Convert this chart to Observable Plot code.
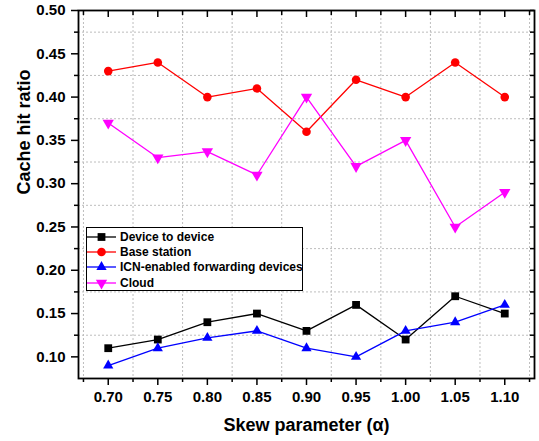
<!DOCTYPE html>
<html><head><meta charset="utf-8">
<script src="https://cdn.jsdelivr.net/npm/d3@7"></script>
<script src="https://cdn.jsdelivr.net/npm/@observablehq/plot@0.6"></script>
<style>
body{margin:0;background:#fff;font-family:"Liberation Sans",Arial,sans-serif;}
#wrap{position:relative;width:539px;height:441px;}
#legend{position:absolute;left:86px;top:227px;width:217px;height:64px;border:1px solid #000;background:#fff;box-sizing:border-box;padding-top:1px;}
.row{display:flex;align-items:center;height:15.4px;font-weight:bold;font-size:12px;color:#000;white-space:nowrap;}
.row svg{display:block;margin-right:4px;flex:none;}
</style></head><body><div id="wrap"><div id="legend"></div></div>
<script>
// ---- data ----
const alpha = [0.70, 0.75, 0.80, 0.85, 0.90, 0.95, 1.00, 1.05, 1.10];
const deviceToDevice = [0.11, 0.12, 0.14, 0.15, 0.13, 0.16, 0.12, 0.17, 0.15];
const baseStation    = [0.43, 0.44, 0.40, 0.41, 0.36, 0.42, 0.40, 0.44, 0.40];
const icnForwarding  = [0.09, 0.11, 0.122, 0.13, 0.11, 0.10, 0.13, 0.14, 0.16];
const cloud          = [0.37, 0.33, 0.337, 0.31, 0.40, 0.32, 0.35, 0.25, 0.29];
const seriesNames = ["Device to device", "Base station", "ICN-enabled forwarding devices", "Cloud"];
const seriesColors = ["#000000", "#ff0000", "#0000ff", "#ff00ff"];
const xTicks = [0.70, 0.75, 0.80, 0.85, 0.90, 0.95, 1.00, 1.05, 1.10];
const xMinor = [0.675, 0.725, 0.775, 0.825, 0.875, 0.925, 0.975, 1.025, 1.075, 1.125];
const yTicks = [0.10, 0.15, 0.20, 0.25, 0.30, 0.35, 0.40, 0.45, 0.50];
const yMinor = [0.125, 0.175, 0.225, 0.275, 0.325, 0.375, 0.425, 0.475];
const xLabel = "Skew parameter (\u03b1)";
const yLabel = "Cache hit ratio";

// ---- layout ----
const W = 539, H = 441, mL = 78, mR = 5, mT = 10, mB = 63;
const pW = W - mL - mR, pH = H - mT - mB;

const triangleDown = {
  draw(ctx, size) {
    const y = Math.sqrt(size / (Math.sqrt(3) * 3));
    ctx.moveTo(0, y * 2);
    ctx.lineTo(-Math.sqrt(3) * y, -y);
    ctx.lineTo(Math.sqrt(3) * y, -y);
    ctx.closePath();
  }
};
const seriesValues = [deviceToDevice, baseStation, icnForwarding, cloud];
const seriesSymbols = [d3.symbolSquare, d3.symbolCircle, d3.symbolTriangle, triangleDown];
const seriesR = [4.4, 4.3, 3.8, 4.2];

const marks = [
  Plot.ruleX(xMinor, {x: d => d, stroke: "#bdbdbd", strokeDasharray: "2,2"}),
  Plot.ruleY(yMinor, {y: d => d, stroke: "#bdbdbd", strokeDasharray: "2,2"})
];
seriesValues.forEach((vals, i) => {
  const rows = alpha.map((a, j) => ({x: a, y: vals[j]}));
  marks.push(Plot.line(rows, {x: "x", y: "y", stroke: seriesColors[i], strokeWidth: 1.3}));
  marks.push(Plot.dot(rows, {x: "x", y: "y", fill: seriesColors[i], stroke: "none", symbol: seriesSymbols[i], r: seriesR[i]}));
});
const tk = {stroke: "#000", strokeWidth: 1.5};
marks.push(
  Plot.frame({stroke: "#000", strokeWidth: 1.8}),
  // bottom (outward)
  Plot.tickX(xTicks, {x: d => d, insetTop: pH, insetBottom: -7, ...tk}),
  Plot.tickX(xMinor, {x: d => d, insetTop: pH, insetBottom: -4, ...tk}),
  // top (inward)
  Plot.tickX(xTicks, {x: d => d, insetTop: 0, insetBottom: pH - 7, ...tk}),
  Plot.tickX(xMinor, {x: d => d, insetTop: 0, insetBottom: pH - 5, ...tk}),
  // left (outward)
  Plot.tickY(yTicks, {y: d => d, insetLeft: -7, insetRight: pW, ...tk}),
  Plot.tickY(yMinor, {y: d => d, insetLeft: -4, insetRight: pW, ...tk}),
  // right (inward)
  Plot.tickY(yTicks, {y: d => d, insetLeft: pW - 4, insetRight: 0, ...tk}),
  Plot.tickY(yMinor, {y: d => d, insetLeft: pW - 4, insetRight: 0, ...tk}),
  // tick labels
  Plot.text(xTicks, {x: d => d, frameAnchor: "bottom", dy: 13, lineAnchor: "top", text: d => d.toFixed(2), fontSize: 15, fontWeight: "bold", fill: "#000"}),
  Plot.text(yTicks, {y: d => d, frameAnchor: "left", dx: -13, textAnchor: "end", text: d => d.toFixed(2), fontSize: 15, fontWeight: "bold", fill: "#000"}),
  // axis titles
  Plot.text([xLabel], {frameAnchor: "bottom", dy: 52, text: d => d, fontSize: 18, fontWeight: "bold", fill: "#000"}),
  Plot.text([yLabel], {frameAnchor: "left", dx: -54, rotate: -90, text: d => d, fontSize: 18, fontWeight: "bold", fill: "#000"})
);

const chart = Plot.plot({
  width: W, height: H,
  marginLeft: mL, marginRight: mR, marginTop: mT, marginBottom: mB,
  x: {domain: [0.67, 1.13], axis: null},
  y: {domain: [0.075, 0.50], axis: null},
  style: {fontFamily: "'Liberation Sans', Arial, sans-serif", background: "#fff", overflow: "visible"},
  marks
});
document.getElementById("wrap").prepend(chart);

// ---- legend ----
const legend = d3.select("#legend");
seriesNames.forEach((name, i) => {
  const row = legend.append("div").attr("class", "row");
  const svg = row.append("svg").attr("width", 29).attr("height", 14);
  svg.append("line").attr("x1", 0).attr("x2", 29).attr("y1", 7).attr("y2", 7)
    .attr("stroke", seriesColors[i]).attr("stroke-width", 1.3);
  svg.append("path").attr("transform", "translate(14.5,7)")
    .attr("d", d3.symbol(seriesSymbols[i], Math.PI * seriesR[i] * seriesR[i])())
    .attr("fill", seriesColors[i]);
  row.append("span").text(name);
});
</script></body></html>
